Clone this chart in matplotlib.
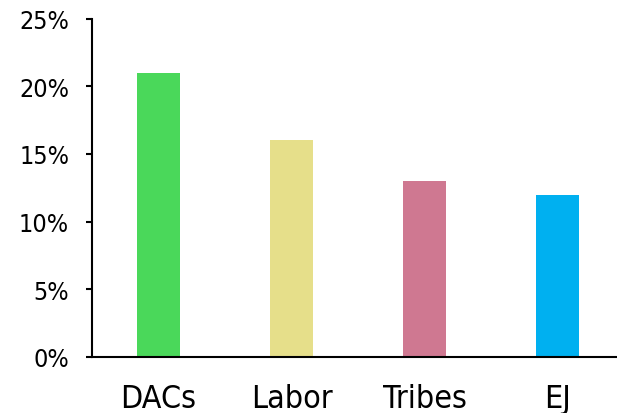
import matplotlib
matplotlib.use("Agg")
import matplotlib.pyplot as plt
from matplotlib.ticker import FuncFormatter

categories = ["DACs", "Labor", "Tribes", "EJ"]
shares = [21, 16, 13, 12]
bar_colors = ["#4AD85A", "#E6DF8A", "#CF7891", "#00B0F0"]
y_ticks = [0, 5, 10, 15, 20, 25]

plt.rcParams["font.family"] = ["DejaVu Sans"]

fig = plt.figure(figsize=(6.17, 4.14), dpi=100)
ax = fig.add_axes([92 / 617, 56 / 414, 532 / 617, 338.5 / 414])

x = range(len(categories))
ax.bar(x, shares, width=0.316, color=bar_colors)

ax.set_xlim(-0.5, len(categories) - 0.5)
ax.set_ylim(0, 25)
ax.set_yticks(y_ticks)
ax.yaxis.set_major_formatter(FuncFormatter(lambda v, _: f"{v:.0f}%"))
ax.set_xticks(list(x))
ax.set_xticklabels(categories, fontsize=23, fontstretch="condensed")
ax.tick_params(axis="x", length=0, pad=19)
ax.tick_params(axis="y", length=4.5, width=1.5, labelsize=18, pad=12)
for lbl in ax.get_yticklabels():
    lbl.set_fontstretch("condensed")

for side in ("top", "right"):
    ax.spines[side].set_visible(False)
for side in ("left", "bottom"):
    ax.spines[side].set_linewidth(1.5)

fig.savefig("out.png", dpi=100)
